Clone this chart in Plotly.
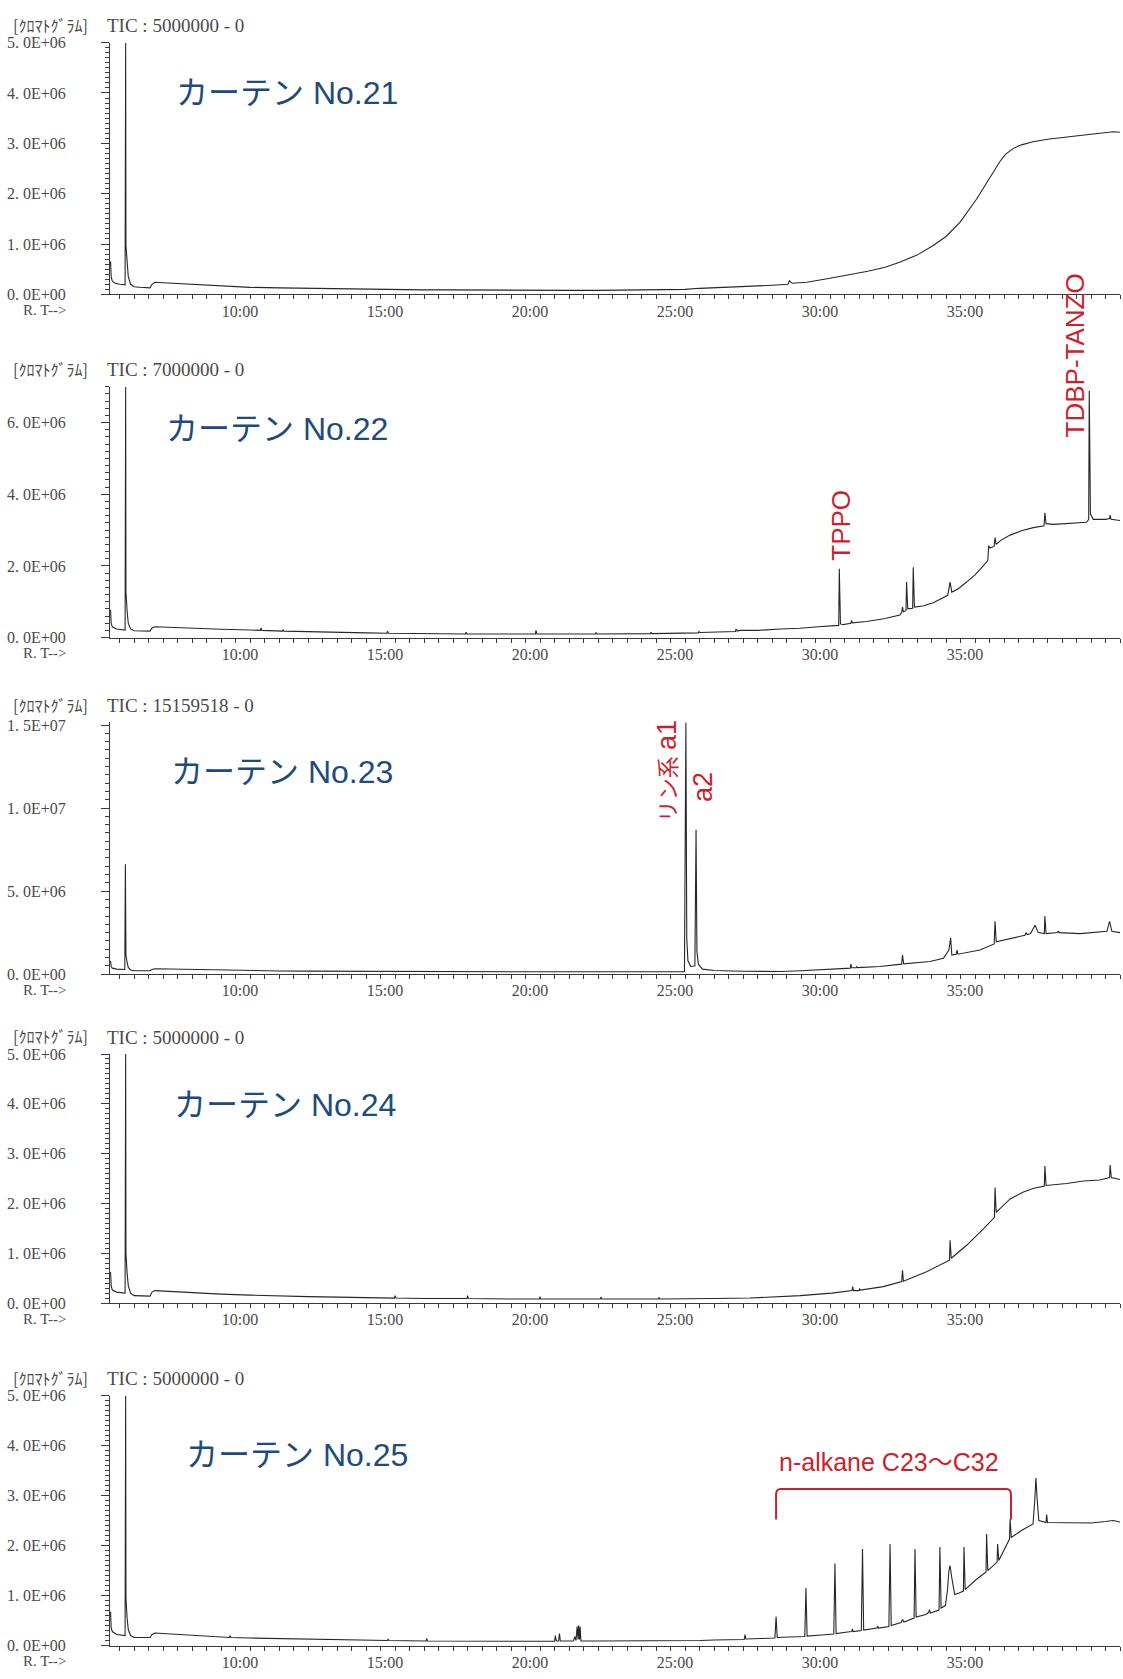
import plotly.graph_objects as go

W, H = 1123, 1679

# retention time [min] / intensity [x1E+06]
t21 = [5.17, 5.19, 5.21, 5.25, 5.35, 5.5, 5.69, 5.71, 5.72, 5.76, 5.8, 5.88, 6.0, 6.2, 6.55, 6.62, 6.72, 7.0,
       8.0, 9.0, 10.0, 11.0, 12.0, 13.0, 14.0, 15.0, 16.0, 17.0, 18.0, 19.0, 20.0, 21.0, 22.0, 23.0, 24.0, 25.0,
       25.5, 26.0, 27.0, 28.0, 28.55, 28.6, 28.7, 29.2, 29.9, 30.5, 31.3, 31.9, 32.4, 33.0, 33.56, 34.0, 34.48,
       35.05, 35.52, 35.86, 36.05, 36.32, 36.6, 37.0, 37.5, 38.16, 39.0, 39.77, 40.0]
i21 = [0.62, 0.65, 0.35, 0.26, 0.22, 0.2, 0.19, 5.0, 0.97, 0.6, 0.35, 0.2, 0.15, 0.14, 0.13, 0.2, 0.24, 0.23,
       0.2, 0.17, 0.14, 0.13, 0.12, 0.11, 0.1, 0.1, 0.09, 0.09, 0.085, 0.08, 0.08, 0.08, 0.08, 0.085, 0.09, 0.1,
       0.12, 0.13, 0.15, 0.18, 0.2, 0.27, 0.22, 0.24, 0.31, 0.37, 0.46, 0.54, 0.64, 0.78, 0.97, 1.15, 1.43,
       1.89, 2.34, 2.64, 2.78, 2.9, 2.97, 3.03, 3.08, 3.13, 3.18, 3.23, 3.22]

t22 = [5.17, 5.19, 5.21, 5.25, 5.4, 5.69, 5.71, 5.72, 5.76, 5.8, 5.88, 6.0, 6.55, 6.62, 6.72, 7.0, 8.0, 9.0,
       10.0, 10.36, 10.38, 10.41, 11.12, 11.14, 11.17, 12.0, 13.0, 14.0, 14.72, 14.74, 14.77, 16.0, 17.43,
       17.45, 17.48, 19.0, 19.84, 19.86, 19.89, 21.91, 21.93, 21.96, 23.81, 23.83, 23.86, 25.46, 25.48, 25.51,
       26.67, 26.74, 26.76, 26.8, 26.9, 27.5, 28.3, 28.97, 29.6, 30.23, 30.3, 30.32, 30.36, 30.45, 30.72,
       30.74, 30.77, 31.26, 31.9, 32.41, 32.47, 32.5, 32.53, 32.62, 32.64, 32.68, 32.85, 32.87, 32.91, 33.2,
       33.56, 34.06, 34.14, 34.2, 34.4, 34.71, 35.0, 35.29, 35.44, 35.47, 35.52, 35.66, 35.69, 35.73, 35.9,
       36.21, 36.6, 37.01, 37.38, 37.41, 37.45, 37.7, 38.2, 38.85, 38.92, 38.94, 38.98, 39.08, 39.5, 39.64,
       39.66, 39.69, 40.0]
i22 = [0.75, 0.77, 0.4, 0.3, 0.24, 0.21, 7.0, 1.27, 0.75, 0.4, 0.24, 0.19, 0.18, 0.27, 0.3, 0.29, 0.26, 0.23,
       0.21, 0.2, 0.27, 0.2, 0.18, 0.22, 0.18, 0.16, 0.14, 0.13, 0.12, 0.18, 0.12, 0.11, 0.1,
       0.15, 0.1, 0.1, 0.1, 0.2, 0.1, 0.1, 0.14, 0.1, 0.11, 0.15, 0.11, 0.13, 0.17, 0.14,
       0.17, 0.17, 0.24, 0.18, 0.2, 0.2, 0.24, 0.26, 0.3, 0.33, 0.34, 1.92, 0.38, 0.36, 0.4,
       0.48, 0.41, 0.45, 0.53, 0.63, 0.7, 0.85, 0.72, 0.75, 1.55, 0.8, 0.82, 1.96, 0.85, 0.88,
       0.97, 1.18, 1.55, 1.27, 1.35, 1.55, 1.75, 2.01, 2.15, 2.56, 2.5, 2.55, 2.79, 2.6, 2.72,
       2.86, 2.98, 3.07, 3.12, 3.48, 3.18, 3.16, 3.18, 3.22, 3.3, 6.89, 3.45, 3.3, 3.3, 3.32,
       3.42, 3.3, 3.27]

t23 = [5.17, 5.19, 5.21, 5.25, 5.4, 5.68, 5.7, 5.72, 5.76, 5.8, 5.88, 6.0, 6.55, 6.62, 6.72, 7.0, 8.0, 9.0,
       10.0, 11.0, 12.0, 13.0, 14.0, 15.0, 16.0, 17.0, 18.0, 19.0, 20.0, 21.0, 22.0, 23.0, 24.0, 24.98, 25.03,
       25.06, 25.1, 25.2, 25.34, 25.38, 25.41, 25.46, 25.6, 26.0, 27.0, 28.28, 29.0, 30.0, 30.7, 30.72, 30.75,
       30.9, 30.92, 30.95, 31.72, 32.47, 32.5, 32.54, 33.45, 33.91, 34.05, 34.1, 34.16, 34.2, 34.35, 34.38,
       34.41, 35.17, 35.66, 35.69, 35.73, 36.32, 36.72, 36.76, 36.8, 36.88, 36.92, 37.07, 37.18, 37.39, 37.41,
       37.45, 37.85, 37.87, 37.9, 38.62, 39.55, 39.64, 39.72, 40.0]
i23 = [0.74, 0.76, 0.45, 0.36, 0.3, 0.28, 6.61, 1.15, 0.7, 0.4, 0.25, 0.2, 0.2, 0.28, 0.32, 0.31, 0.27, 0.23,
       0.2, 0.19, 0.18, 0.17, 0.17, 0.16, 0.15, 0.15, 0.14, 0.14, 0.14, 0.14, 0.14, 0.14, 0.15, 0.15, 15.16,
       2.15, 0.8, 0.46, 0.5, 8.7, 1.37, 0.6, 0.3, 0.22, 0.17, 0.16, 0.2, 0.3, 0.36, 0.6, 0.38,
       0.38, 0.45, 0.39, 0.46, 0.6, 1.15, 0.62, 0.76, 0.95, 1.3, 1.45, 2.19, 1.15, 1.2, 1.45,
       1.2, 1.45, 1.82, 3.18, 1.95, 2.19, 2.34, 2.5, 2.38, 2.42, 2.46, 2.94, 2.5, 2.44, 3.5,
       2.44, 2.5, 2.6, 2.5, 2.44, 2.58, 3.18, 2.58, 2.5]

t24 = [5.17, 5.19, 5.21, 5.25, 5.4, 5.69, 5.71, 5.72, 5.76, 5.8, 5.88, 6.0, 6.55, 6.62, 6.72, 7.0, 8.0, 9.0,
       10.0, 11.0, 12.0, 13.0, 14.0, 14.98, 15.0, 15.03, 16.0, 17.48, 17.5, 17.53, 19.0, 19.98, 20.0, 20.03,
       21.0, 22.08, 22.1, 22.13, 24.08, 24.1, 24.13, 25.0, 26.0, 27.24, 28.0, 28.97, 30.06, 30.76, 30.78, 30.81,
       31.0, 31.02, 31.05, 31.84, 32.47, 32.5, 32.53, 33.33, 34.12, 34.14, 34.18, 34.71, 35.29, 35.67, 35.69,
       35.73, 36.21, 36.45, 36.67, 37.0, 37.39, 37.41, 37.45, 38.16, 38.74, 39.3, 39.64, 39.66, 39.7, 40.0]
i24 = [0.6, 0.62, 0.35, 0.26, 0.22, 0.2, 5.0, 1.0, 0.6, 0.35, 0.2, 0.15, 0.14, 0.22, 0.25, 0.24, 0.21, 0.18,
       0.16, 0.14, 0.13, 0.12, 0.11, 0.1, 0.15, 0.1, 0.09, 0.09, 0.15, 0.09, 0.08, 0.08, 0.13, 0.08,
       0.08, 0.08, 0.12, 0.08, 0.08, 0.11, 0.08, 0.08, 0.09, 0.1, 0.12, 0.15, 0.2, 0.25, 0.33, 0.25,
       0.25, 0.29, 0.26, 0.33, 0.43, 0.66, 0.44, 0.63, 0.86, 1.26, 0.9, 1.16, 1.49, 1.72, 2.32,
       1.82, 2.09, 2.17, 2.23, 2.3, 2.35, 2.75, 2.36, 2.4, 2.45, 2.47, 2.52, 2.77, 2.52, 2.48]

t25 = [5.17, 5.19, 5.21, 5.25, 5.4, 5.69, 5.71, 5.72, 5.76, 5.8, 5.88, 6.0, 6.55, 6.62, 6.72, 7.0, 8.0, 9.0,
       9.29, 9.31, 9.34, 10.0, 11.0, 12.0, 13.0, 14.0, 14.74, 14.76, 14.79, 16.07, 16.09, 16.12, 17.0, 18.0,
       19.0, 20.0, 20.5, 20.53, 20.56, 20.64, 20.67, 20.7, 21.15, 21.2, 21.24, 21.28, 21.31, 21.33, 21.36,
       21.38, 21.41, 22.0, 23.0, 24.0, 25.52, 26.0, 27.04, 27.07, 27.1, 27.6, 28.1, 28.14, 28.18, 28.6, 29.13,
       29.17, 29.21, 29.7, 30.13, 30.17, 30.21, 30.6, 30.75, 30.77, 30.8, 31.08, 31.12, 31.16, 31.5, 31.62,
       31.64, 31.67, 32.03, 32.07, 32.11, 32.45, 32.5, 32.55, 32.9, 32.93, 32.97, 33.3, 33.4, 33.43, 33.46,
       33.76, 33.79, 33.83, 33.98, 34.05, 34.1, 34.14, 34.2, 34.3, 34.45, 34.6, 34.62, 34.66, 35.0, 35.38,
       35.4, 35.44, 35.76, 35.78, 35.82, 36.19, 36.21, 36.25, 36.6, 37.0, 37.06, 37.1, 37.14, 37.2, 37.45,
       37.47, 37.5, 38.16, 39.0, 39.5, 39.77, 40.0]
i25 = [0.65, 0.67, 0.35, 0.28, 0.22, 0.2, 5.0, 0.94, 0.55, 0.32, 0.2, 0.16, 0.16, 0.22, 0.25, 0.24, 0.21, 0.17,
       0.16, 0.2, 0.16, 0.15, 0.14, 0.13, 0.12, 0.11, 0.1, 0.13, 0.1, 0.09, 0.14, 0.09, 0.09, 0.09,
       0.085, 0.085, 0.085, 0.2, 0.09, 0.09, 0.24, 0.09, 0.09, 0.18, 0.1, 0.38, 0.12, 0.4, 0.12,
       0.38, 0.09, 0.09, 0.09, 0.09, 0.1, 0.11, 0.12, 0.22, 0.13, 0.14, 0.15, 0.58, 0.16, 0.17, 0.18,
       1.15, 0.19, 0.21, 0.23, 1.64, 0.24, 0.27, 0.28, 0.33, 0.28, 0.3, 1.93, 0.31, 0.34, 0.35,
       0.39, 0.35, 0.38, 2.03, 0.4, 0.46, 0.52, 0.47, 0.55, 1.93, 0.57, 0.62, 0.66, 0.72, 0.65,
       0.71, 1.97, 0.75, 0.8, 1.1, 1.5, 1.6, 1.35, 1.02, 1.05, 1.09, 1.97, 1.12, 1.3, 1.47,
       2.23, 1.5, 1.67, 2.03, 1.7, 2.13, 2.53, 2.16, 2.3, 2.43, 2.9, 3.35, 2.95, 2.5, 2.46,
       2.62, 2.46, 2.45, 2.45, 2.48, 2.5, 2.47]

times = [t21, t22, t23, t24, t25]
ints = [i21, i22, i23, i24, i25]

samples = ['カーテン No.21', 'カーテン No.22', 'カーテン No.23', 'カーテン No.24', 'カーテン No.25']
tic_text = ['TIC : 5000000 - 0', 'TIC : 7000000 - 0', 'TIC : 15159518 - 0',
            'TIC : 5000000 - 0', 'TIC : 5000000 - 0']
y_max = [5.0, 7.0, 15.16, 5.0, 5.0]
y_tickvals = [[0, 1, 2, 3, 4, 5], [0, 2, 4, 6], [0, 5, 10, 15], [0, 1, 2, 3, 4, 5], [0, 1, 2, 3, 4, 5]]
y_ticktext = [['0. 0E+00', '1. 0E+06', '2. 0E+06', '3. 0E+06', '4. 0E+06', '5. 0E+06'],
              ['0. 0E+00', '2. 0E+06', '4. 0E+06', '6. 0E+06'],
              ['0. 0E+00', '5. 0E+06', '1. 0E+07', '1. 5E+07'],
              ['0. 0E+00', '1. 0E+06', '2. 0E+06', '3. 0E+06', '4. 0E+06', '5. 0E+06'],
              ['0. 0E+00', '1. 0E+06', '2. 0E+06', '3. 0E+06', '4. 0E+06', '5. 0E+06']]
y_minor = [0.1, 0.2, 0.5, 0.1, 0.1]
rt_vals = [10, 15, 20, 25, 30, 35]
rt_text = ['10:00', '15:00', '20:00', '25:00', '30:00', '35:00']
rt_range = [5.17, 40.0]

# n-alkane bracket (No.25)
bracket_t = [28.14, 36.24]
bracket_i = [2.52, 3.13]

# panel frames in px (top, bottom)
frames = [(35, 289.3), (382.7, 636), (721.7, 976), (1056.7, 1308.3), (1401.7, 1654.3)]
x_left, x_right = 110, 1120

AXC = '#3a3a3a'
TXT = '#4a4a4a'
RED = '#cc1f2b'
BLUE = '#1d4c7c'
SERIF = 'Liberation Serif'
SANS = 'Liberation Sans, Noto Sans CJK JP'


def px(x):
    return x / W


def py(y):
    return 1 - y / H


fig = go.Figure()
annotations = []
shapes = []

for k in range(5):
    n = '' if k == 0 else str(k + 1)
    top, bot = frames[k]
    fig.add_trace(go.Scatter(x=times[k], y=ints[k], mode='lines', xaxis='x' + n, yaxis='y' + n,
                             line=dict(color='#262626', width=1.1), showlegend=False, hoverinfo='skip'))
    fig.update_layout(**{
        'xaxis' + n: dict(domain=[px(x_left), px(x_right)], range=rt_range, anchor='y' + n,
                          showline=True, linecolor=AXC, linewidth=1, showgrid=False, zeroline=False,
                          ticks='outside', ticklen=4, tickcolor=AXC,
                          tickvals=rt_vals, ticktext=rt_text, ticklabelshift=-10, ticklabelstandoff=-2,
                          tickfont=dict(family=SERIF, size=16, color=TXT),
                          minor=dict(dtick=0.5, tick0=0, ticks='outside', ticklen=4, tickcolor=AXC)),
        'yaxis' + n: dict(domain=[py(bot), py(top)], range=[0, y_max[k]], anchor='x' + n,
                          showline=True, linecolor=AXC, linewidth=1, showgrid=False, zeroline=False,
                          ticks='outside', ticklen=8, tickcolor=AXC,
                          tickvals=y_tickvals[k], ticktext=y_ticktext[k], ticklabelstandoff=32,
                          tickfont=dict(family=SERIF, size=16, color=TXT),
                          minor=dict(dtick=y_minor[k], tick0=0, ticks='outside', ticklen=4, tickcolor=AXC)),
    })
    # header
    annotations.append(dict(text='[ｸﾛﾏﾄｸﾞﾗﾑ]', x=px(11), y=py(top - 18), xref='paper', yref='paper',
                            xanchor='left', yanchor='middle', showarrow=False,
                            font=dict(family='Noto Sans CJK JP', size=16, color=TXT)))
    annotations.append(dict(text=tic_text[k], x=px(105), y=py(top - 17), xref='paper', yref='paper',
                            xanchor='left', yanchor='middle', showarrow=False,
                            font=dict(family=SERIF, size=19, color=TXT)))
    annotations.append(dict(text='R. T-->', x=px(21), y=py(bot + 16), xref='paper', yref='paper',
                            xanchor='left', yanchor='middle', showarrow=False,
                            font=dict(family=SERIF, size=15, color=TXT)))

title_pos = [(174, 86), (164, 425), (169, 772), (172, 1108), (184, 1462)]
for k in range(5):
    annotations.append(dict(text=samples[k], x=px(title_pos[k][0]), y=py(title_pos[k][1]),
                            xref='paper', yref='paper', xanchor='left', yanchor='middle', showarrow=False,
                            font=dict(family=SANS, size=32, color=BLUE)))

red_labels = [
    ('TPPO', 841, 523, 26),
    ('TDBP-TANZO', 1075, 351, 26),
    ("リン系 <span style='font-size:27px'>a1</span>", 667, 771, 22),
    ('a2', 703, 787, 27),
]
for txt, x, y, s in red_labels:
    annotations.append(dict(text=txt, x=px(x), y=py(y), xref='paper', yref='paper', textangle=-90,
                            xanchor='center', yanchor='middle', showarrow=False,
                            font=dict(family=SANS, size=s, color=RED)))

annotations.append(dict(text='n-alkane C23～C32', x=px(889), y=py(1469), xref='paper', yref='paper',
                        xanchor='center', yanchor='middle', showarrow=False,
                        font=dict(family=SANS, size=25, color=RED)))

x0, x1 = bracket_t
y0, y1 = bracket_i
r_t, r_i = 0.15, 0.12
path = (f'M {x0},{y0} L {x0},{y1 - r_i} Q {x0},{y1} {x0 + r_t},{y1} '
        f'L {x1 - r_t},{y1} Q {x1},{y1} {x1},{y1 - r_i} L {x1},{y0}')
shapes.append(dict(type='path', path=path, xref='x5', yref='y5', line=dict(color=RED, width=2)))

fig.update_layout(width=W, height=H, margin=dict(l=0, r=0, t=0, b=0),
                  paper_bgcolor='white', plot_bgcolor='white',
                  annotations=annotations, shapes=shapes)

# page margin off so the figure sits at the window origin
fig.write_html('out.html', config={'displayModeBar': False},
               post_script="document.body.style.margin='0';")
